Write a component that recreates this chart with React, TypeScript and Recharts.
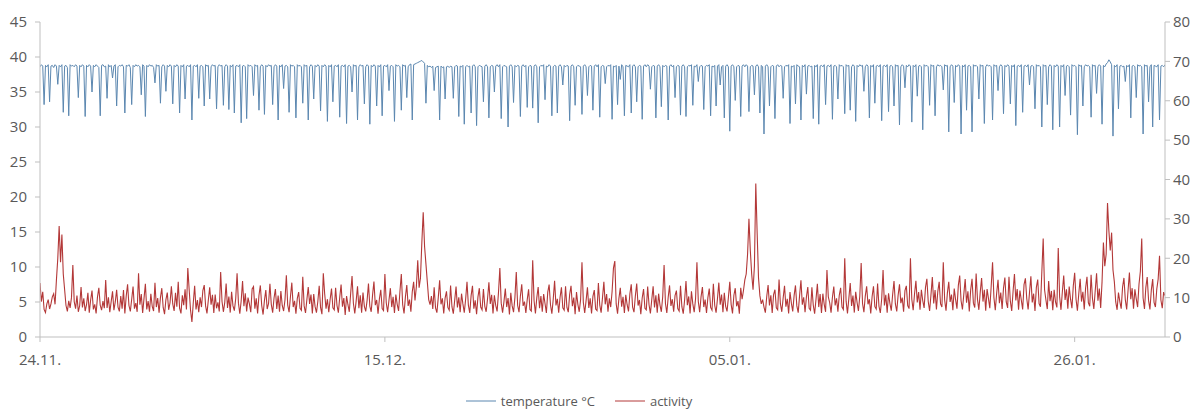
import React from 'react';
import { LineChart, Line, XAxis, YAxis, Legend } from 'recharts';

// sampled every 2 hours, one row per day, starting 24.11.
const temperature = [
  38.6, 38.9, 38.7, 33.2, 38.8, 38.6, 38.9, 33.6, 38.7, 38.8, 38.5, 38.9,
  38.7, 36.1, 38.8, 38.6, 38.9, 32.1, 38.7, 38.8, 38.5, 31.6, 38.9, 38.7,
  38.8, 38.6, 38.9, 38.7, 34.2, 38.8, 38.6, 38.9, 38.7, 31.5, 38.8, 38.6,
  38.9, 38.7, 35.0, 38.8, 38.6, 38.9, 38.7, 38.5, 31.6, 38.8, 38.9, 38.6,
  38.7, 34.1, 38.9, 38.6, 38.8, 37.0, 38.7, 38.9, 33.0, 38.6, 38.8, 38.7,
  38.9, 38.6, 32.0, 38.8, 38.7, 38.9, 38.5, 33.2, 38.8, 38.6, 38.9, 38.7,
  38.8, 38.6, 34.6, 38.9, 38.7, 31.5, 38.8, 38.6, 38.9, 38.7, 38.8, 38.5,
  36.3, 38.9, 38.7, 38.8, 33.4, 38.6, 38.9, 38.7, 35.1, 38.8, 38.6, 38.9,
  38.7, 33.3, 38.8, 38.6, 38.9, 38.7, 32.0, 38.8, 38.6, 38.9, 34.0, 38.7,
  38.8, 38.6, 38.9, 31.0, 38.7, 38.8, 38.6, 38.9, 34.1, 38.7, 38.8, 38.6,
  33.0, 38.9, 38.7, 38.8, 34.0, 38.6, 38.9, 38.7, 38.8, 32.6, 38.6, 38.9,
  38.7, 38.8, 33.1, 38.6, 38.9, 38.7, 32.5, 38.8, 38.6, 38.9, 32.0, 38.7,
  38.8, 38.6, 38.9, 30.6, 38.7, 38.8, 38.6, 31.2, 38.9, 38.7, 38.8, 38.6,
  34.5, 38.9, 38.7, 38.8, 32.4, 38.6, 38.9, 38.7, 31.8, 38.8, 38.6, 38.9,
  38.7, 38.8, 33.2, 38.6, 38.9, 38.7, 31.0, 38.8, 38.6, 38.9, 35.5, 38.7,
  38.8, 38.6, 32.1, 38.9, 38.7, 38.8, 38.6, 31.3, 38.9, 38.7, 38.8, 38.6,
  33.4, 38.9, 38.7, 38.8, 31.0, 38.6, 38.9, 38.7, 34.0, 38.8, 38.6, 38.9,
  38.7, 32.3, 38.8, 38.6, 38.9, 38.7, 30.8, 38.8, 38.6, 38.9, 33.6, 38.7,
  38.8, 38.6, 38.9, 31.4, 38.7, 38.8, 38.6, 38.9, 30.5, 38.7, 38.8, 38.6,
  35.0, 38.9, 38.7, 38.8, 31.0, 38.6, 38.9, 38.7, 38.8, 33.3, 38.6, 38.9,
  38.7, 30.4, 38.8, 38.6, 38.9, 38.7, 33.0, 38.8, 38.6, 38.9, 31.6, 38.7,
  38.8, 38.6, 38.9, 35.2, 38.7, 38.8, 38.6, 30.8, 38.9, 38.7, 38.8, 38.6,
  32.4, 38.9, 38.7, 38.8, 34.2, 38.6, 38.9, 39.0, 31.0, 38.9, 39.0, 39.1,
  39.2, 39.3, 39.4, 39.5, 39.3, 39.1, 33.4, 38.8, 38.6, 38.7, 38.5, 38.7,
  35.2, 38.5, 38.6, 38.7, 31.0, 38.7, 38.5, 38.6, 34.0, 38.6, 38.7, 38.5,
  38.7, 38.6, 34.1, 38.6, 38.8, 38.7, 31.5, 38.7, 38.6, 38.8, 30.4, 38.6,
  38.8, 38.6, 38.7, 32.0, 38.7, 38.9, 38.6, 30.2, 38.6, 38.8, 38.7, 38.6,
  33.6, 38.7, 38.9, 38.6, 31.3, 38.6, 38.8, 38.7, 35.0, 38.7, 38.9, 38.6,
  38.9, 31.2, 38.6, 38.8, 38.7, 38.6, 30.0, 38.7, 38.9, 38.6, 33.5, 38.8,
  38.6, 38.8, 38.7, 31.5, 38.7, 38.9, 38.6, 38.8, 32.8, 38.6, 38.8, 38.7,
  32.7, 38.7, 38.9, 38.6, 30.6, 38.6, 38.8, 38.7, 38.9, 33.9, 38.7, 38.6,
  38.9, 38.7, 31.6, 38.6, 38.8, 38.7, 32.0, 38.7, 38.9, 38.6, 36.0, 38.8,
  38.6, 38.8, 38.7, 30.9, 38.7, 38.9, 38.6, 33.1, 38.6, 38.8, 38.7, 38.6,
  31.8, 38.7, 38.9, 38.6, 34.5, 38.6, 38.8, 38.7, 32.4, 38.7, 38.9, 38.6,
  38.9, 31.4, 38.6, 38.8, 38.7, 36.2, 38.6, 38.8, 38.7, 38.9, 31.1, 38.7,
  38.6, 38.8, 33.2, 38.7, 36.8, 38.9, 38.6, 31.6, 38.8, 38.7, 38.6, 38.9,
  32.0, 38.7, 38.9, 38.6, 33.6, 38.6, 38.8, 38.7, 31.1, 38.7, 38.9, 38.6,
  38.9, 38.7, 35.4, 38.6, 38.8, 38.7, 31.3, 38.7, 38.9, 38.6, 32.9, 38.8,
  38.6, 38.8, 38.7, 31.0, 38.7, 38.9, 38.6, 38.8, 34.2, 38.6, 38.8, 38.7,
  31.7, 38.7, 38.9, 38.6, 31.5, 38.6, 38.8, 38.7, 38.9, 33.1, 38.7, 38.6,
  38.9, 36.5, 38.6, 38.8, 38.7, 32.5, 38.6, 38.8, 38.7, 38.9, 31.6, 38.7,
  38.6, 38.8, 33.0, 38.7, 38.9, 36.0, 38.6, 38.8, 31.3, 38.7, 38.9, 38.6,
  29.4, 38.7, 38.9, 38.6, 33.8, 38.6, 38.8, 38.7, 31.5, 38.7, 38.9, 38.6,
  38.9, 38.7, 32.2, 38.6, 38.8, 38.7, 34.6, 38.7, 38.9, 38.6, 32.0, 38.8,
  38.6, 29.0, 38.7, 38.9, 38.6, 33.0, 38.6, 38.8, 38.7, 31.2, 38.7, 38.9,
  38.6, 38.8, 38.7, 34.1, 38.6, 38.8, 38.7, 38.9, 30.5, 38.7, 38.6, 38.8,
  33.3, 38.9, 38.7, 38.6, 31.0, 38.8, 38.6, 38.9, 34.7, 38.7, 38.8, 38.6,
  38.7, 31.2, 38.8, 38.6, 38.9, 30.4, 38.7, 38.8, 38.6, 38.9, 33.2, 38.7,
  38.8, 38.6, 38.9, 31.1, 38.7, 38.8, 38.6, 34.0, 38.9, 38.7, 38.8, 38.6,
  31.9, 38.9, 38.7, 38.8, 32.4, 38.6, 38.9, 38.7, 30.8, 38.8, 38.6, 38.9,
  38.7, 38.8, 35.1, 38.6, 38.9, 38.7, 31.3, 38.8, 38.6, 38.9, 33.4, 38.7,
  38.8, 38.6, 38.9, 30.9, 38.7, 38.8, 38.6, 38.9, 32.2, 38.7, 38.8, 38.6,
  33.0, 38.9, 38.7, 38.8, 30.3, 38.6, 38.9, 38.7, 35.6, 38.8, 38.6, 38.9,
  38.7, 30.7, 38.8, 38.6, 38.9, 34.4, 38.7, 38.8, 38.6, 29.6, 38.9, 38.7,
  38.8, 38.6, 33.1, 38.9, 38.7, 38.8, 31.6, 38.6, 38.9, 38.7, 38.8, 38.6,
  35.3, 38.9, 38.7, 38.8, 29.3, 38.6, 38.9, 38.7, 33.5, 38.8, 38.6, 38.9,
  38.7, 29.0, 38.8, 38.6, 38.9, 32.4, 38.7, 38.8, 38.6, 29.3, 38.9, 38.7,
  38.8, 38.6, 34.0, 38.9, 38.7, 38.8, 30.5, 38.6, 38.9, 38.7, 38.8, 38.6,
  31.0, 38.9, 38.7, 38.8, 35.2, 38.6, 38.9, 38.7, 31.9, 38.8, 38.6, 38.9,
  38.7, 33.3, 38.8, 38.6, 38.9, 30.2, 38.7, 38.8, 38.6, 38.9, 32.1, 38.7,
  38.8, 38.6, 38.9, 36.0, 38.7, 38.8, 38.6, 32.6, 38.9, 38.7, 38.8, 38.6,
  30.0, 38.9, 38.7, 38.8, 33.2, 38.6, 38.9, 38.7, 29.6, 38.8, 38.6, 38.9,
  38.7, 30.0, 38.8, 38.6, 38.9, 34.5, 38.7, 38.8, 38.6, 31.7, 38.9, 38.7,
  38.8, 38.6, 28.9, 38.9, 38.7, 38.8, 33.0, 38.6, 38.9, 38.7, 38.8, 38.6,
  31.4, 38.9, 38.7, 38.8, 34.8, 38.6, 38.9, 38.7, 30.4, 38.8, 38.6, 39.0,
  39.2, 39.6, 39.3, 38.9, 28.7, 38.8, 38.6, 38.9, 32.6, 38.7, 38.8, 38.6,
  38.7, 36.5, 38.8, 38.6, 38.9, 31.3, 38.7, 38.8, 38.6, 34.2, 38.9, 38.7,
  38.8, 38.6, 29.0, 38.9, 38.7, 38.8, 33.6, 38.6, 38.9, 30.0, 38.8, 38.7,
  38.6, 38.9, 31.0, 38.7, 38.8, 38.6, 38.9,
];

const activity = [
  13.7, 9.0, 11.5, 7.0, 6.2, 8.4, 9.5, 7.1, 8.4, 10.2, 11.0, 8.3,
  14.5, 20.0, 28.2, 19.0, 26.0, 16.0, 12.0, 8.0, 6.5, 9.2, 7.4, 10.0,
  18.3, 9.0, 7.2, 10.5, 6.4, 8.0, 12.7, 7.5, 9.8, 6.6, 8.2, 11.2,
  6.2, 9.4, 11.8, 7.0, 8.3, 6.0, 10.2, 12.5, 8.1, 6.8, 9.1, 7.3,
  14.5, 7.4, 10.1, 6.3, 9.0, 11.6, 6.8, 8.9, 12.0, 7.6, 6.5, 10.4,
  7.2, 11.9, 6.0, 10.4, 13.4, 8.0, 6.5, 9.6, 12.8, 7.2, 8.6, 6.4,
  16.2, 8.2, 10.9, 6.1, 9.8, 13.5, 7.0, 9.1, 6.4, 11.0, 7.8, 6.6,
  13.8, 7.6, 9.9, 6.2, 10.0, 12.4, 7.5, 5.8, 9.5, 11.3, 6.9, 8.7,
  12.9, 8.4, 6.6, 11.2, 7.7, 14.0, 7.3, 6.0, 10.6, 8.1, 12.1, 7.0,
  17.5, 12.0, 6.8, 3.8, 8.7, 13.0, 7.0, 9.4, 6.3, 10.1, 7.6, 11.8,
  13.2, 7.9, 6.0, 9.4, 12.6, 8.2, 10.7, 6.1, 10.8, 7.3, 8.8, 6.5,
  16.5, 9.0, 6.4, 8.8, 13.6, 7.4, 10.3, 6.2, 11.5, 7.9, 6.7, 9.7,
  16.2, 8.6, 5.9, 9.2, 14.2, 7.8, 11.1, 6.5, 10.0, 8.4, 6.3, 12.2,
  12.8, 7.2, 9.8, 6.0, 10.6, 13.1, 8.0, 5.7, 9.3, 11.9, 7.1, 8.5,
  13.5, 8.3, 6.2, 9.9, 12.2, 7.1, 10.5, 6.4, 11.7, 8.0, 6.6, 9.4,
  15.7, 8.1, 6.3, 10.3, 13.8, 7.6, 9.2, 5.9, 9.8, 11.4, 7.3, 6.8,
  15.3, 7.9, 6.1, 9.5, 12.7, 8.4, 10.8, 6.0, 10.9, 7.7, 6.2, 9.0,
  13.0, 7.5, 5.8, 16.2, 11.0, 7.2, 9.6, 6.3, 9.6, 12.3, 7.4, 6.9,
  12.5, 8.0, 6.2, 10.1, 13.3, 7.7, 9.9, 5.6, 10.4, 8.2, 6.4, 11.1,
  15.5, 8.5, 6.0, 9.1, 12.9, 7.3, 10.6, 6.2, 11.3, 7.8, 6.5, 9.3,
  13.6, 7.8, 6.4, 10.7, 14.1, 8.1, 9.4, 5.9, 9.7, 12.0, 7.2, 6.7,
  16.0, 8.7, 6.3, 9.4, 12.4, 7.6, 10.2, 6.1, 10.8, 8.3, 6.6, 11.6,
  16.0, 8.2, 6.0, 10.2, 13.2, 7.9, 9.5, 6.4, 11.5, 14.0, 9.3, 12.8,
  19.5, 12.5, 15.0, 24.0, 31.7, 23.0, 18.5, 14.0, 9.5, 8.2, 10.4, 7.1,
  12.6, 7.4, 6.2, 10.0, 14.4, 8.3, 9.8, 6.0, 9.9, 11.6, 7.5, 6.8,
  13.1, 7.7, 5.9, 9.3, 12.8, 7.5, 10.1, 6.3, 11.0, 8.4, 6.2, 9.6,
  14.0, 8.1, 6.1, 10.5, 13.0, 7.2, 9.3, 5.8, 10.2, 12.4, 7.6, 6.9,
  12.2, 7.8, 6.4, 9.7, 13.9, 8.4, 10.7, 6.0, 10.6, 8.0, 6.5, 11.3,
  17.5, 8.6, 6.2, 9.0, 12.3, 7.6, 9.9, 5.7, 11.2, 7.9, 6.3, 10.0,
  16.5, 8.0, 6.3, 10.4, 13.4, 7.9, 9.0, 6.1, 9.5, 12.1, 7.0, 6.6,
  19.5, 9.2, 6.0, 10.0, 12.7, 7.3, 10.4, 6.4, 10.9, 8.5, 6.1, 11.4,
  13.3, 8.2, 5.9, 9.6, 14.3, 8.0, 9.7, 6.2, 10.1, 12.6, 7.4, 6.8,
  12.9, 7.5, 6.3, 10.8, 13.0, 7.8, 10.0, 5.8, 11.4, 8.3, 6.4, 9.5,
  19.0, 8.8, 6.1, 9.2, 12.6, 7.4, 9.8, 6.0, 10.3, 11.9, 7.1, 6.7,
  13.7, 8.1, 6.2, 10.0, 14.0, 8.3, 10.9, 6.4, 9.8, 7.6, 11.5, 17.5,
  19.3, 8.4, 5.9, 9.8, 12.5, 7.7, 10.2, 6.1, 10.7, 8.2, 6.5, 11.0,
  13.4, 7.6, 6.3, 10.4, 13.6, 8.0, 9.4, 5.8, 9.9, 12.2, 7.3, 6.9,
  12.8, 8.2, 6.0, 9.5, 12.9, 7.5, 10.6, 6.2, 11.0, 8.1, 6.4, 10.3,
  18.3, 8.5, 6.1, 10.1, 13.1, 7.9, 9.6, 6.4, 10.5, 11.8, 7.2, 6.6,
  13.0, 7.7, 5.9, 9.4, 14.2, 8.1, 10.3, 6.0, 11.6, 8.4, 6.3, 9.7,
  19.0, 9.0, 6.3, 10.2, 12.7, 7.6, 9.5, 6.1, 10.0, 12.3, 7.5, 6.8,
  13.5, 8.0, 6.2, 9.7, 13.8, 8.2, 10.8, 6.3, 11.2, 7.8, 6.5, 10.1,
  14.0, 8.3, 6.0, 10.6, 12.4, 7.8, 9.1, 5.9, 12.5, 9.6, 11.8, 14.5,
  16.0, 21.0, 30.0, 22.0, 16.0, 12.0, 18.0, 39.0, 26.4, 15.0, 10.5, 8.4,
  9.5, 7.6, 6.2, 10.3, 13.2, 8.0, 10.6, 6.1, 10.8, 12.0, 7.4, 6.9,
  14.6, 8.4, 6.4, 9.9, 13.0, 7.7, 9.7, 6.0, 11.4, 8.6, 6.5, 10.5,
  13.1, 7.9, 6.2, 10.5, 14.4, 8.2, 10.1, 6.3, 10.2, 12.7, 7.3, 6.8,
  12.6, 8.1, 5.9, 9.6, 13.5, 7.6, 10.9, 6.1, 11.0, 8.3, 6.4, 17.0,
  10.2, 8.7, 6.2, 10.1, 12.8, 8.0, 9.8, 6.4, 10.6, 12.5, 7.6, 7.0,
  20.0, 9.1, 6.0, 9.8, 13.7, 7.9, 10.5, 6.2, 11.5, 8.8, 6.6, 10.4,
  18.8, 8.5, 6.3, 10.4, 12.9, 8.3, 9.6, 6.0, 10.3, 12.9, 7.7, 7.1,
  13.6, 7.8, 6.1, 9.7, 17.0, 8.0, 10.7, 6.2, 11.1, 8.5, 6.7, 10.8,
  14.2, 8.4, 6.5, 10.6, 13.4, 8.6, 10.0, 6.4, 11.8, 13.0, 8.0, 7.2,
  20.0, 9.6, 6.8, 11.0, 14.3, 8.8, 11.4, 6.9, 12.0, 9.2, 7.4, 12.6,
  14.8, 9.0, 6.6, 10.7, 15.2, 8.5, 11.9, 7.0, 11.6, 14.0, 8.4, 7.6,
  19.0, 9.4, 6.7, 11.2, 14.0, 8.9, 10.8, 6.8, 12.3, 9.5, 7.2, 13.1,
  15.6, 9.2, 7.0, 10.9, 14.7, 8.7, 11.6, 6.5, 11.9, 14.8, 8.6, 7.5,
  16.1, 9.5, 6.9, 11.4, 15.0, 9.0, 12.0, 6.7, 12.2, 9.8, 7.3, 12.9,
  19.0, 10.0, 6.8, 11.1, 14.5, 8.6, 11.3, 7.1, 12.4, 15.1, 8.9, 7.4,
  15.3, 9.1, 6.6, 11.6, 16.0, 9.3, 12.2, 6.9, 11.8, 9.4, 7.0, 13.3,
  14.9, 9.7, 7.0, 11.3, 15.4, 8.8, 11.0, 6.6, 12.6, 14.6, 8.5, 7.7,
  16.5, 25.0, 12.0, 9.4, 7.1, 14.2, 9.1, 11.7, 6.8, 12.0, 8.9, 7.5,
  22.6, 10.2, 6.9, 11.5, 15.6, 9.4, 12.1, 7.2, 12.8, 9.6, 7.3, 13.0,
  16.3, 9.6, 6.7, 11.0, 14.8, 9.0, 11.5, 7.0, 12.5, 15.3, 8.7, 7.8,
  15.8, 9.8, 7.1, 11.7, 16.2, 9.2, 12.3, 7.4, 14.0, 24.0, 18.0, 21.0,
  34.0, 27.0, 22.0, 26.5, 17.0, 14.0, 8.9, 6.9, 11.3, 9.0, 7.2, 12.7,
  15.0, 9.5, 7.0, 11.8, 16.4, 9.6, 12.4, 7.2, 12.1, 9.7, 7.6, 13.4,
  16.7, 25.0, 9.9, 7.1, 12.6, 15.2, 9.3, 7.0, 11.9, 14.7, 8.8, 7.6,
  12.2, 14.7, 20.6, 9.4, 7.3, 11.4, 10.5,
];

const dayTicks = [0, 21, 42, 63];
const dayLabels = ['24.11.', '15.12.', '05.01.', '26.01.'];
const tempTicks = [0, 5, 10, 15, 20, 25, 30, 35, 40, 45];
const activityTicks = [0, 10, 20, 30, 40, 50, 60, 70, 80];

const data = temperature.map((v, i) => ({
  t: i / 12,
  temperature: v,
  activity: activity[i],
}));

const TEMP_COLOR = '#5b87b0';
const ACT_COLOR = '#b33838';
const AXIS_COLOR = '#bfbfbf';
const TEXT_COLOR = '#595959';
const FONT = '"Open Sans", sans-serif';

const tickStyle = { fill: TEXT_COLOR, fontSize: 15, fontFamily: FONT };

const LegendContent = () => (
  <div
    style={{
      height: 16,
      display: 'flex',
      justifyContent: 'center',
      alignItems: 'center',
      paddingRight: 35,
      fontFamily: FONT,
      fontSize: 13,
      color: TEXT_COLOR,
      lineHeight: '16px',
    }}
  >
    <svg width={30} height={4} style={{ marginRight: 5 }}>
      <line x1={0} y1={2} x2={30} y2={2} stroke={TEMP_COLOR} strokeWidth={1} />
    </svg>
    <span style={{ marginRight: 20 }}>temperature °C</span>
    <svg width={30} height={4} style={{ marginRight: 5 }}>
      <line x1={0} y1={2} x2={30} y2={2} stroke={ACT_COLOR} strokeWidth={1} />
    </svg>
    <span>activity</span>
  </div>
);

export default function App() {
  return (
    <div style={{ position: 'absolute', left: 0, top: 0, width: 1193, height: 409, background: '#fff' }}>
      <LineChart
        width={1193}
        height={409}
        data={data}
        margin={{ top: 22, right: 0, bottom: 0, left: 0 }}
      >
        <XAxis
          dataKey="t"
          type="number"
          domain={[0, 68.5]}
          ticks={dayTicks}
          tickFormatter={(v) => dayLabels[dayTicks.indexOf(v)] ?? ''}
          stroke={AXIS_COLOR}
          tick={tickStyle}
          tickSize={5}
          tickMargin={12}
          height={56}
          allowDataOverflow
        />
        <YAxis
          yAxisId="temp"
          orientation="left"
          domain={[0, 45]}
          ticks={tempTicks}
          stroke={AXIS_COLOR}
          tick={tickStyle}
          tickSize={5}
          tickMargin={8}
          width={40}
          interval={0}
        />
        <YAxis
          yAxisId="act"
          orientation="right"
          domain={[0, 80]}
          ticks={activityTicks}
          stroke={AXIS_COLOR}
          tick={{ ...tickStyle, textAnchor: 'start' }}
          tickSize={5}
          tickMargin={3}
          width={28}
          interval={0}
        />
        <Legend verticalAlign="bottom" content={<LegendContent />} />
        <Line
          yAxisId="temp"
          type="linear"
          dataKey="temperature"
          stroke={TEMP_COLOR}
          strokeWidth={1}
          dot={false}
          isAnimationActive={false}
        />
        <Line
          yAxisId="act"
          type="linear"
          dataKey="activity"
          stroke={ACT_COLOR}
          strokeWidth={1.1}
          dot={false}
          isAnimationActive={false}
        />
      </LineChart>
    </div>
  );
}
